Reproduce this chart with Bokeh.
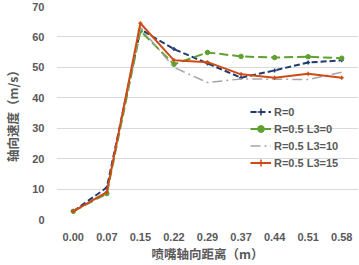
from bokeh.plotting import figure
from bokeh.models import FactorRange, Range1d, Legend, LegendItem, FixedTicker
from bokeh.embed import file_html
from bokeh.resources import INLINE

categories = ["0.00", "0.07", "0.15", "0.22", "0.29", "0.37", "0.44", "0.51", "0.58"]
r0 = [2.7, 10.5, 62.5, 56.0, 51.3, 46.6, 49.0, 51.6, 52.3]
r05_l0 = [2.7, 8.5, 62.0, 51.0, 54.9, 53.6, 53.2, 53.5, 53.0]
r05_l10 = [2.7, 9.0, 63.0, 50.0, 45.0, 46.2, 46.1, 46.0, 48.4]
r05_l15 = [2.7, 9.0, 64.5, 52.3, 51.7, 47.7, 46.6, 47.9, 46.6]
y_ticks = [0, 10, 20, 30, 40, 50, 60, 70]

BLUE = "#1f3a6e"
GREEN = "#5ea12f"
GREY = "#a6a6a6"
RED = "#d04a16"
TXT = "#595959"

p = figure(width=359, height=265, x_range=FactorRange(*categories),
           y_range=Range1d(0, 70), output_backend="svg", toolbar_location=None,
           min_border_left=41, min_border_right=1, min_border_top=6, min_border_bottom=45)
p.outline_line_color = None
p.background_fill_color = "white"
p.border_fill_color = "white"

p.xgrid.grid_line_color = None
p.ygrid.grid_line_color = "#d9d9d9"
p.ygrid.grid_line_width = 1
p.yaxis.ticker = FixedTicker(ticks=y_ticks)

for ax in (p.xaxis[0], p.yaxis[0]):
    ax.axis_line_color = None
    ax.major_tick_line_color = None
    ax.minor_tick_line_color = None
    ax.major_label_text_font = "Liberation Sans"
    ax.major_label_text_font_style = "bold"
    ax.major_label_text_font_size = "11px"
    ax.major_label_text_color = TXT
    ax.axis_label_text_font = "Noto Sans CJK SC"
    ax.axis_label_text_font_style = "bold"
    ax.axis_label_text_font_size = "12.5px"
    ax.axis_label_text_color = TXT

p.xaxis.axis_label = "喷嘴轴向距离（m）"
p.yaxis.axis_label = "轴向速度（m/s）"
p.xaxis.major_label_standoff = 7
p.xaxis.axis_label_standoff = 0
p.yaxis.major_label_standoff = 6
p.yaxis.axis_label_standoff = 7

l1 = p.line(categories, r0, line_color=BLUE, line_width=2, line_dash="6 3")
m1 = p.scatter(categories, r0, marker="cross", size=4, line_color=BLUE, line_width=1.5)
l2 = p.line(categories, r05_l0, line_color=GREEN, line_width=2, line_dash="9 4")
m2 = p.scatter(categories, r05_l0, marker="circle", size=4.5, fill_color=GREEN, line_color=GREEN)
l3 = p.line(categories, r05_l10, line_color=GREY, line_width=1.5, line_dash="10 4 2 4")
l4 = p.line(categories, r05_l15, line_color=RED, line_width=2)
m4 = p.scatter(categories, r05_l15, marker="cross", size=4, line_color=RED, line_width=1.5)

legend = Legend(items=[
    LegendItem(label="R=0", renderers=[l1, m1]),
    LegendItem(label="R=0.5 L3=0", renderers=[l2, m2]),
    LegendItem(label="R=0.5 L3=10", renderers=[l3]),
    LegendItem(label="R=0.5 L3=15", renderers=[l4, m4]),
], location=(194, 48))
legend.background_fill_alpha = 0
legend.border_line_color = None
legend.padding = 0
legend.margin = 0
legend.spacing = 0
legend.glyph_width = 21
legend.glyph_height = 17
legend.label_height = 17
legend.label_standoff = 3
legend.label_text_font = "Liberation Sans"
legend.label_text_font_style = "bold"
legend.label_text_font_size = "11px"
legend.label_text_color = TXT
p.add_layout(legend)

open("out.html", "w").write(file_html(p, INLINE))
